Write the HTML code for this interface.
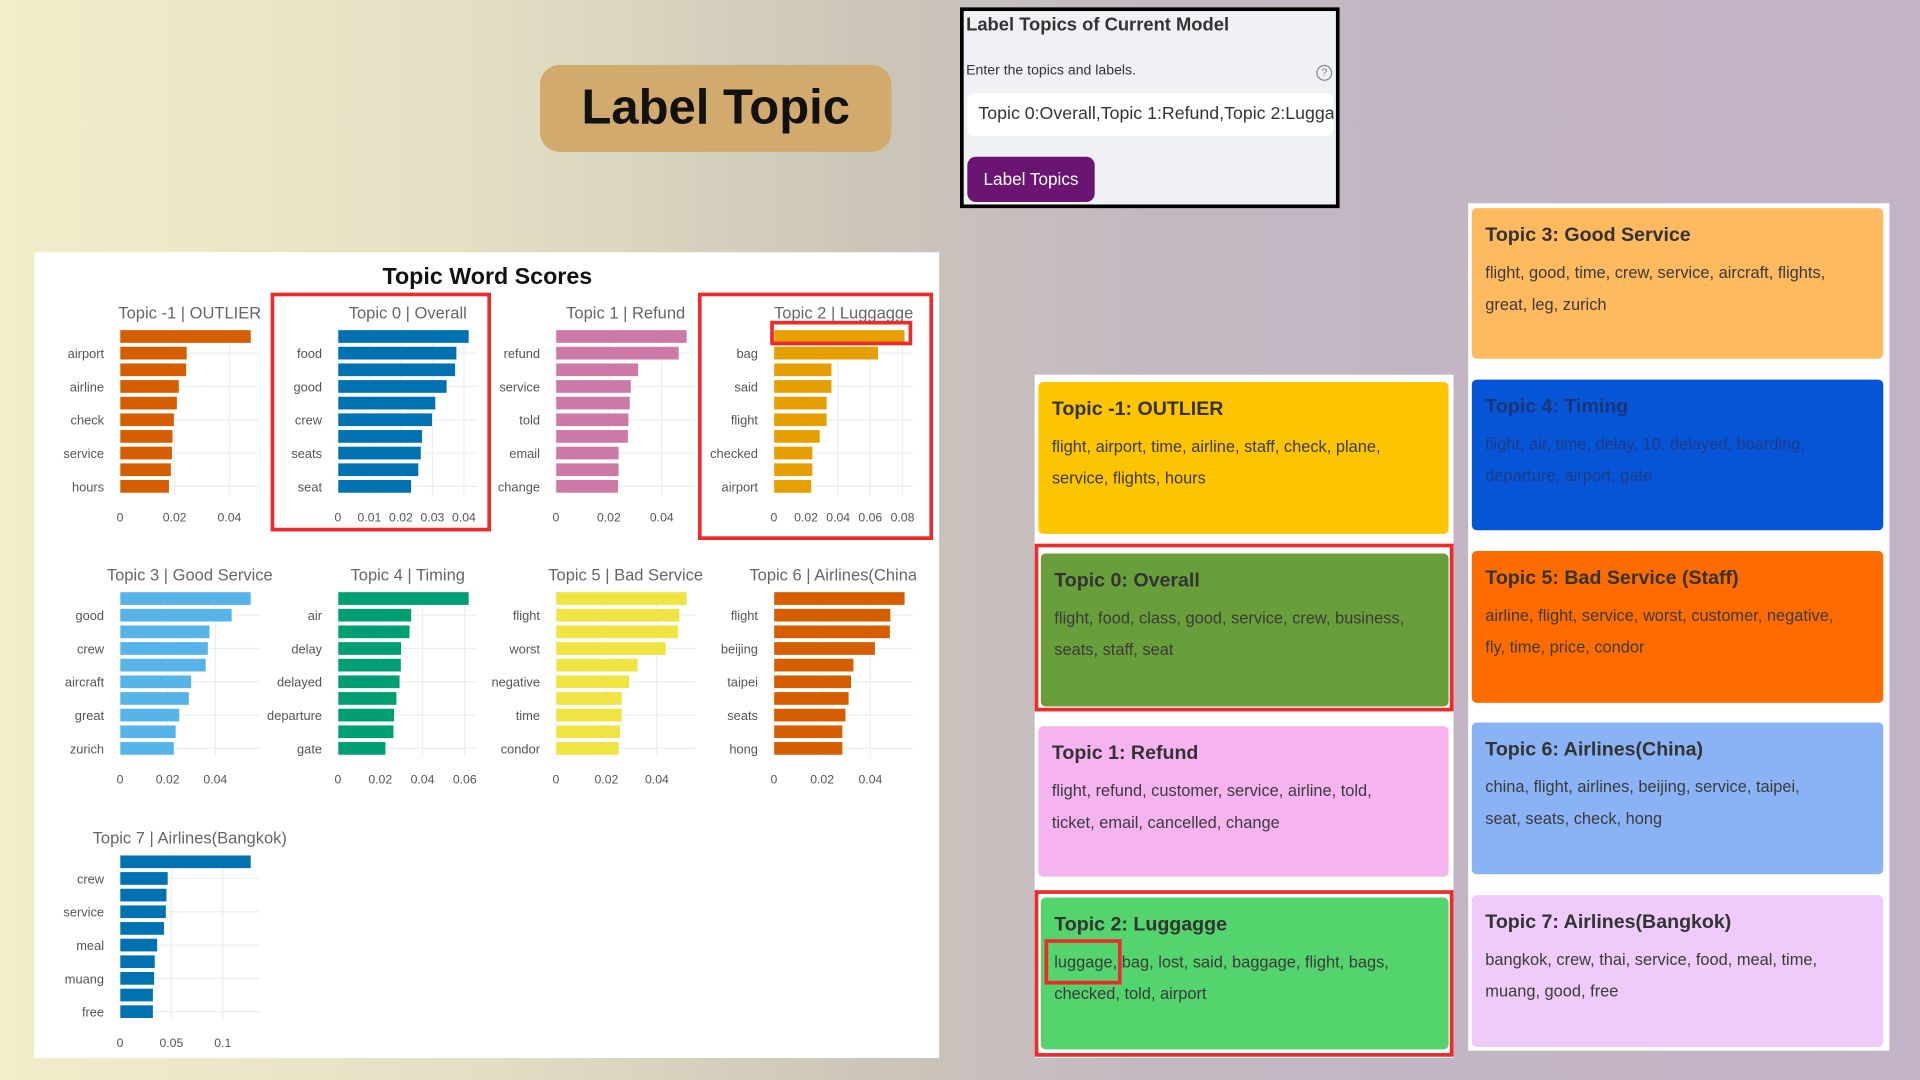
<!DOCTYPE html>
<html><head><meta charset="utf-8">
<style>
html,body{margin:0;padding:0;width:1920px;height:1080px;overflow:hidden;font-family:"Liberation Sans",sans-serif}
#stage{position:absolute;left:0;top:0;width:1568px;height:882px;transform:scale(1.22449);transform-origin:0 0;
background:linear-gradient(90deg,#f2eecb 0%,#e3dfc4 25%,#cbc6b8 45%,#c3b8c2 60%,#c3b3c6 100%)}
.abs{position:absolute;box-sizing:border-box}
.card{position:absolute;box-sizing:border-box;border-radius:4px;padding:12px 11px;color:#3b3b3b}
.card h3{margin:0 0 6px 0;font-size:16px;font-weight:bold;line-height:22px;color:#333}
.card p{margin:0;font-size:13.4px;line-height:26px;white-space:nowrap}
.red{position:absolute;box-sizing:border-box;border:3px solid #ee2a2a}
</style></head><body>
<div id="stage">
  <div class="abs" style="left:441px;top:53px;width:287px;height:71px;background:#d3aa6e;border-radius:16px;text-align:center;line-height:71px;font-size:40px;font-weight:bold;color:#111">Label Topic</div>

  <div class="abs" style="left:784px;top:6px;width:310px;height:164px;border:3px solid #000;background:#f0f1f5">
    <div class="abs" style="left:2px;top:3px;font-size:15px;font-weight:bold;color:#333">Label Topics of Current Model</div>
    <div class="abs" style="left:2px;top:43px;font-size:11.5px;color:#333">Enter the topics and labels.</div>
    <div class="abs" style="left:288px;top:44px;width:13px;height:13px;border:1.3px solid #888;border-radius:50%;font-size:9px;line-height:11px;text-align:center;color:#888">?</div>
    <div class="abs" style="left:3px;top:67px;width:299px;height:35px;background:#fff;border-radius:6px;padding-left:9px;line-height:35px;font-size:14.5px;color:#333;white-space:nowrap;overflow:hidden">Topic 0:Overall,Topic 1:Refund,Topic 2:Luggage</div>
    <div class="abs" style="left:3px;top:119px;width:104px;height:37px;background:#6b1572;border-radius:7px;color:#fff;font-size:14px;line-height:37px;text-align:center">Label Topics</div>
  </div>

  <div class="abs" style="left:28px;top:206px;width:739px;height:658px;background:#fff"></div>
  <svg class="abs" id="chart" style="left:0;top:0" width="1568" height="882"><defs><clipPath id="clipR"><rect x="0" y="0" width="748" height="882"/></clipPath></defs></svg>
  <div class="red" style="left:221px;top:239px;width:180px;height:195px"></div>
  <div class="red" style="left:570px;top:239px;width:192px;height:202px"></div>
  <div class="red" style="left:629px;top:262px;width:116px;height:20px"></div>

  <div class="abs" style="left:845px;top:306px;width:342px;height:558px;background:#fff"></div>
  <div class="abs" style="left:1199px;top:166px;width:344px;height:692px;background:#fff"></div>

  <div class="card" style="left:848px;top:312px;width:335px;height:124px;background:#fdc500"><h3>Topic -1: OUTLIER</h3><p>flight, airport, time, airline, staff, check, plane,<br>service, flights, hours</p></div>
  <div class="card" style="left:850px;top:452px;width:333px;height:125px;background:#689f3a"><h3>Topic 0: Overall</h3><p>flight, food, class, good, service, crew, business,<br>seats, staff, seat</p></div>
  <div class="red" style="left:845px;top:444px;width:342px;height:137px"></div>
  <div class="card" style="left:848px;top:593px;width:335px;height:123px;background:#f5b4ef"><h3>Topic 1: Refund</h3><p>flight, refund, customer, service, airline, told,<br>ticket, email, cancelled, change</p></div>
  <div class="card" style="left:850px;top:733px;width:333px;height:124px;background:#53d46c"><h3>Topic 2: Luggagge</h3><p>luggage, bag, lost, said, baggage, flight, bags,<br>checked, told, airport</p></div>
  <div class="red" style="left:845px;top:727px;width:342px;height:136px"></div>
  <div class="red" style="left:853px;top:767px;width:63px;height:37px"></div>

  <div class="card" style="left:1202px;top:170px;width:336px;height:123px;background:#ffb95e"><h3>Topic 3: Good Service</h3><p>flight, good, time, crew, service, aircraft, flights,<br>great, leg, zurich</p></div>
  <div class="card" style="left:1202px;top:310px;width:336px;height:123px;background:#0655d6;color:#1d3b84"><h3 style="color:#1a3576">Topic 4: Timing</h3><p>flight, air, time, delay, 10, delayed, boarding,<br>departure, airport, gate</p></div>
  <div class="card" style="left:1202px;top:450px;width:336px;height:124px;background:#fe6c00"><h3>Topic 5: Bad Service (Staff)</h3><p>airline, flight, service, worst, customer, negative,<br>fly, time, price, condor</p></div>
  <div class="card" style="left:1202px;top:590px;width:336px;height:124px;background:#8ab3f5"><h3>Topic 6: Airlines(China)</h3><p>china, flight, airlines, beijing, service, taipei,<br>seat, seats, check, hong</p></div>
  <div class="card" style="left:1202px;top:731px;width:336px;height:124px;background:#eecbf8"><h3>Topic 7: Airlines(Bangkok)</h3><p>bangkok, crew, thai, service, food, meal, time,<br>muang, good, free</p></div>
</div>
<script>
const topicTitles = ["Topic -1 | OUTLIER","Topic 0 | Overall","Topic 1 | Refund","Topic 2 | Luggagge","Topic 3 | Good Service","Topic 4 | Timing","Topic 5 | Bad Service","Topic 6 | Airlines(China)","Topic 7 | Airlines(Bangkok)"];
const words0 = ["flight","airport","time","airline","staff","check","plane","service","flights","hours"];
const words1 = ["flight","food","class","good","service","crew","business","seats","staff","seat"];
const words2 = ["flight","refund","customer","service","airline","told","ticket","email","cancelled","change"];
const words3 = ["luggage","bag","lost","said","baggage","flight","bags","checked","told","airport"];
const words4 = ["flight","good","time","crew","service","aircraft","flights","great","leg","zurich"];
const words5 = ["flight","air","time","delay","10","delayed","boarding","departure","airport","gate"];
const words6 = ["airline","flight","service","worst","customer","negative","fly","time","price","condor"];
const words7 = ["china","flight","airlines","beijing","service","taipei","seat","seats","check","hong"];
const words8 = ["bangkok","crew","thai","service","food","meal","time","muang","good","free"];
const scores0 = [0.0479,0.0245,0.0243,0.0216,0.0209,0.0198,0.0193,0.0191,0.0187,0.018];
const scores1 = [0.0416,0.0377,0.0373,0.0346,0.031,0.030,0.0268,0.0264,0.0256,0.0233];
const scores2 = [0.0495,0.0465,0.0312,0.0284,0.028,0.0275,0.0273,0.0238,0.0238,0.0236];
const scores3 = [0.0815,0.065,0.036,0.036,0.033,0.033,0.0287,0.0241,0.0241,0.0234];
const scores4 = [0.055,0.047,0.0377,0.037,0.0361,0.030,0.029,0.025,0.0235,0.0227];
const scores5 = [0.062,0.0348,0.034,0.030,0.0299,0.0293,0.0278,0.0267,0.0264,0.0226];
const scores6 = [0.0519,0.049,0.0485,0.0436,0.0325,0.0291,0.0262,0.0262,0.0255,0.025];
const scores7 = [0.0543,0.0484,0.0482,0.042,0.0331,0.0321,0.0311,0.0298,0.0285,0.0285];
const scores8 = [0.1275,0.0467,0.0455,0.0449,0.0431,0.0365,0.0341,0.0335,0.0323,0.0323];
const ticks0 = [0,0.02,0.04];
const ticks1 = [0,0.01,0.02,0.03,0.04];
const ticks2 = [0,0.02,0.04];
const ticks3 = [0,0.02,0.04,0.06,0.08];
const ticks4 = [0,0.02,0.04];
const ticks5 = [0,0.02,0.04,0.06];
const ticks6 = [0,0.02,0.04];
const ticks7 = [0,0.02,0.04];
const ticks8 = [0,0.05,0.1];
const barColors = ["#d55e00","#0072b2","#cc79a7","#e69f00","#56b4e9","#009e73","#f0e442","#d55e00","#0072b2"];

const W = [words0,words1,words2,words3,words4,words5,words6,words7,words8];
const S = [scores0,scores1,scores2,scores3,scores4,scores5,scores6,scores7,scores8];
const T = [ticks0,ticks1,ticks2,ticks3,ticks4,ticks5,ticks6,ticks7,ticks8];
const NS = "http://www.w3.org/2000/svg";
const svg = document.getElementById('chart');
function mk(tag, attrs, parent){const e=document.createElementNS(NS,tag);for(const k in attrs)e.setAttribute(k,attrs[k]);(parent||svg).appendChild(e);return e;}
const title = mk('text',{x:398,y:232,'text-anchor':'middle','font-size':19,'font-weight':'bold',fill:'#111','font-family':'Liberation Sans, sans-serif'});


title.textContent = 'Topic Word Scores';
const colX = [98,276,454,632];
const rowTop = [268,482,697];
const bandH = 136, plotW = 114;
for (let i=0;i<9;i++){
  const x0 = colX[i%4], y0 = rowTop[Math.floor(i/4)];
  const vals = S[i], words = W[i], ticks = T[i];
  const mx = Math.max(...vals);
  const xs = v => x0 + v/mx*107;
  const pitch = bandH/vals.length;
  const g = mk('g',{'clip-path':'url(#clipR)'});
  
  
  ticks.forEach(t=>{
    mk('line',{x1:xs(t),x2:xs(t),y1:y0,y2:y0+bandH,stroke:'#ebeef3','stroke-width':1},g);
    const tl = mk('text',{x:xs(t),y:y0+bandH+22,'text-anchor':'middle','font-size':10,fill:'#555'},g);
    
    
    tl.textContent = String(t);
  });
  vals.forEach((v,j)=>{
    const cy = y0 + pitch*(j+0.5);
    if (j%2===1){
      mk('line',{x1:x0,x2:x0+plotW,y1:cy,y2:cy,stroke:'#ebeef3','stroke-width':1},g);
      const yl = mk('text',{x:x0-13,y:cy+4,'text-anchor':'end','font-size':10.5,fill:'#555'},g);
      
      
      yl.textContent = words[j];
    }
  });
  vals.forEach((v,j)=>{
    const cy = y0 + pitch*(j+0.5);
    const r = mk('rect',{x:x0,y:cy-pitch*0.4,width:xs(v)-x0,height:pitch*0.8,fill:barColors[i],stroke:'#fff','stroke-width':0.5},g);
    
    
  });
  const st = mk('text',{x:x0+57,y:y0-8,'text-anchor':'middle','font-size':13.5,fill:'#666'},g);
  
  
  st.textContent = topicTitles[i];
  if (i===7){ st.setAttribute('text-anchor','start'); st.setAttribute('x',x0-20); }
}
</script>
</body></html>
